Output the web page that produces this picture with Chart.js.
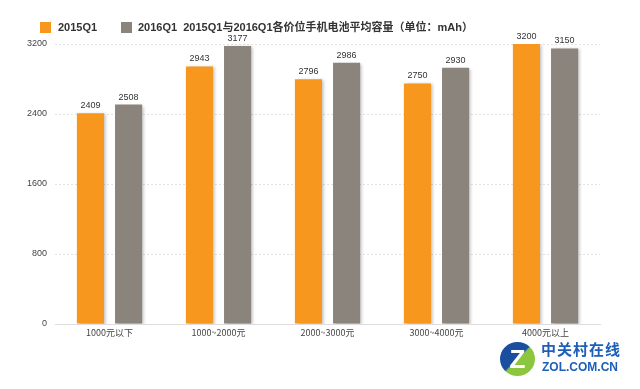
<!DOCTYPE html>
<html lang="zh">
<head>
  <meta charset="UTF-8" />
  <title>2015Q1与2016Q1各价位手机电池平均容量</title>
  <script src="https://cdn.jsdelivr.net/npm/chart.js"></script>
  <style>
    body { margin: 0; background: #fff; font-family: "Noto Sans CJK SC", "Liberation Sans", sans-serif; }
    .wrap { position: relative; width: 640px; height: 389px; overflow: hidden; }
    canvas { position: absolute; left: 0; top: 0; }
    .lg { position: absolute; top: 20px; font: bold 11px "Liberation Sans", "Noto Sans CJK SC", sans-serif; color: #333; white-space: nowrap; line-height: 15px; }
    .sw { position: absolute; top: 22px; width: 11px; height: 11px; }
    .logo { position: absolute; left: 500px; top: 342px; width: 130px; height: 40px; white-space: nowrap; }
    .logo .z { position: absolute; left: 0; top: 0; width: 35px; height: 34px; border-radius: 50%;
      background: linear-gradient(135deg, #1a4fa0 48%, #8cc63f 52%); color: #fff; font: bold 26px "Liberation Sans", sans-serif;
      text-align: center; line-height: 34px; }
    .logo .cn { position: absolute; left: 41px; top: -2px; font-size: 15px; font-weight: bold; color: #1d5fb8; letter-spacing: 1px; line-height: 18px; }
    .logo .en { position: absolute; left: 42px; top: 19px; font: bold 12px "Liberation Sans", sans-serif; color: #1d5fb8; line-height: 13px; }
  </style>
</head>
<body>
<div class="wrap">
  <canvas id="chart" width="640" height="389"></canvas>
  <span class="sw" style="left:40px;background:#F7971E"></span><span class="lg" style="left:58px">2015Q1</span>
  <span class="sw" style="left:121px;background:#8B847C"></span><span class="lg" style="left:138px">2016Q1&nbsp;&nbsp;2015Q1与2016Q1各价位手机电池平均容量（单位：mAh）</span>
  <div class="logo"><div class="z">Z</div><div class="cn">中关村在线</div><div class="en">ZOL.COM.CN</div></div>
</div>
<script>
  const categories = ["1000元以下", "1000~2000元", "2000~3000元", "3000~4000元", "4000元以上"];
  const q2015 = [2409, 2943, 2796, 2750, 3200];
  const q2016 = [2508, 3177, 2986, 2930, 3150];
  const yTicks = [0, 800, 1600, 2400, 3200];

  const shadowAndLabels = {
    id: "shadowAndLabels",
    beforeDatasetsDraw(chart) {
      const ctx = chart.ctx;
      ctx.save();
      ctx.shadowColor = "rgba(0,0,0,0.25)";
      ctx.shadowBlur = 3;
      ctx.shadowOffsetX = 2;
      ctx.shadowOffsetY = 1;
    },
    afterDatasetsDraw(chart) {
      const ctx = chart.ctx;
      ctx.restore();
      ctx.save();
      ctx.font = "9px 'Liberation Sans', sans-serif";
      ctx.fillStyle = "#333";
      ctx.textAlign = "center";
      ctx.textBaseline = "bottom";
      chart.data.datasets.forEach((ds, i) => {
        chart.getDatasetMeta(i).data.forEach((bar, j) => {
          ctx.fillText(ds.data[j], bar.x, bar.y - 3);
        });
      });
      ctx.restore();
    }
  };

  new Chart(document.getElementById("chart"), {
    type: "bar",
    data: {
      labels: categories,
      datasets: [
        { label: "2015Q1", data: q2015, backgroundColor: "#F7971E" },
        { label: "2016Q1", data: q2016, backgroundColor: "#8B847C" }
      ]
    },
    options: {
      responsive: false,
      animation: false,
      layout: { padding: { top: 44, right: 40, left: 0, bottom: 0 } },
      categoryPercentage: 0.7,
      barPercentage: 0.71,
      plugins: { legend: { display: false }, tooltip: { enabled: false } },
      scales: {
        x: {
          afterFit: s => { s.height = 65; },
          grid: { display: false, drawTicks: false },
          border: { display: true, color: "#ddd" },
          ticks: { color: "#444", font: { size: 9, family: "'Noto Sans CJK SC', sans-serif" }, padding: 3 }
        },
        y: {
          min: 0, max: 3200,
          afterFit: s => { s.width = 55; },
          afterBuildTicks: s => { s.ticks = yTicks.map(v => ({ value: v })); },
          grid: { color: "#e2e2e2", drawTicks: false },
          border: { display: false, dash: [2, 2] },
          ticks: { color: "#444", font: { size: 9, family: "'Liberation Sans', sans-serif" }, padding: 8, callback: v => String(v) }
        }
      }
    },
    plugins: [shadowAndLabels]
  });
</script>
</body>
</html>
